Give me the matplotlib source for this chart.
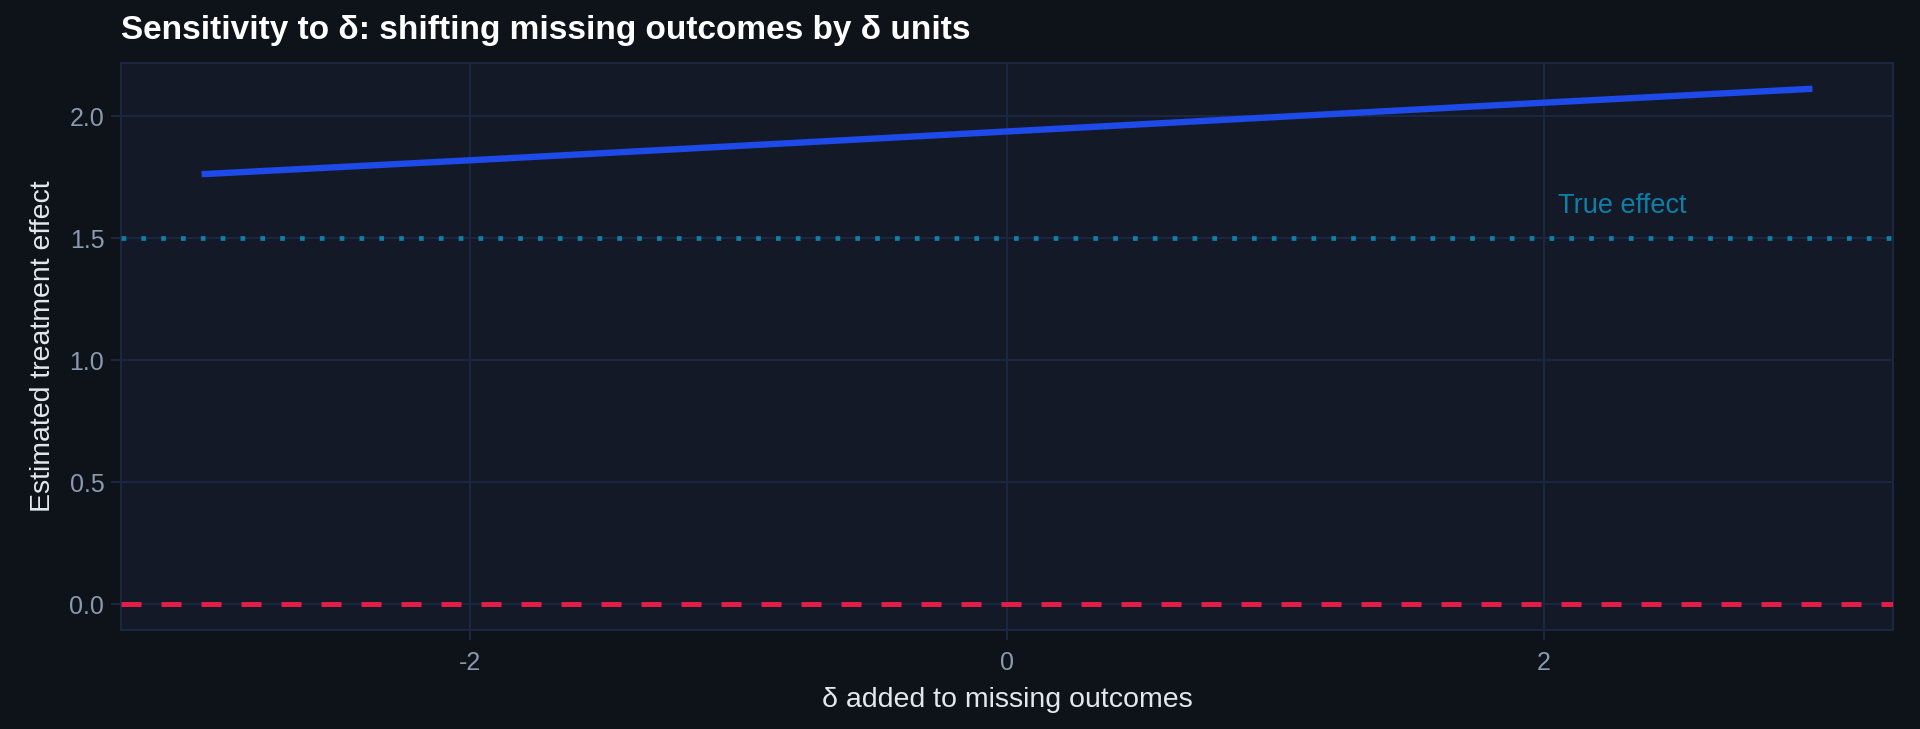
import matplotlib
matplotlib.use("Agg")
import matplotlib.pyplot as plt
import numpy as np

# delta shift applied to imputed missing outcomes, and resulting estimate
delta = [-3, -2, -1, 0, 1, 2, 3]
estimate = [1.762, 1.819, 1.878, 1.937, 1.996, 2.055, 2.112]
true_effect = 1.5
x_ticks = [-2, 0, 2]
y_ticks = [0.0, 0.5, 1.0, 1.5, 2.0]

bg = "#0e1219"
panel = "#131927"
grid = "#1c2841"

plt.rcParams['font.family'] = ['Liberation Sans', 'DejaVu Sans']

fig = plt.figure(figsize=(19.2, 7.29), dpi=100, facecolor=bg)
ax = fig.add_axes([121 / 1920, 1 - 630 / 729, (1893 - 121) / 1920, (630 - 63) / 729])
ax.set_facecolor(panel)

ax.axhline(0, color="#e11d48", lw=3.6, ls=(0, (4, 4)), zorder=3)
ax.axhline(true_effect, color="#0e7fa6", lw=3.4, ls=(0, (1, 3.2)), zorder=3)
ax.plot(delta, estimate, color="#1d4ae8", lw=4.6, solid_capstyle="butt", zorder=4)
ax.text(2.29, 1.632, "True effect", color="#0e7fa6", fontsize=19.5, ha="center", va="center")

xmin, xmax = min(delta), max(delta)
ymin, ymax = 0, max(estimate)
xpad = (xmax - xmin) * 0.05
ypad = (ymax - ymin) * 0.05
ax.set_xlim(xmin - xpad, xmax + xpad)
ax.set_ylim(ymin - ypad, ymax + ypad)
ax.set_xticks(x_ticks)
ax.set_xticklabels([str(v) for v in x_ticks])
ax.set_yticks(y_ticks)
ax.set_yticklabels([f"{v:.1f}" for v in y_ticks])

ax.grid(True, color=grid, lw=1.4, zorder=0)
ax.set_axisbelow(True)
for s in ax.spines.values():
    s.set_color(grid)
    s.set_linewidth(1.4)
ax.tick_params(colors=grid, width=1.4, length=7, labelcolor="#8a9ab0", labelsize=18, pad=5)
ax.tick_params(axis="x", pad=8)

ax.set_xlabel("δ added to missing outcomes", color="#e2e8f0", fontsize=20.5, labelpad=9)
ax.set_ylabel("Estimated treatment effect", color="#e2e8f0", fontsize=20.5, labelpad=10)
fig.text(121 / 1920, 1 - 39 / 729, "Sensitivity to δ: shifting missing outcomes by δ units",
         color="white", fontsize=24, fontweight="bold", ha="left", va="baseline")

fig.savefig("out.png", dpi=100, facecolor=bg)
